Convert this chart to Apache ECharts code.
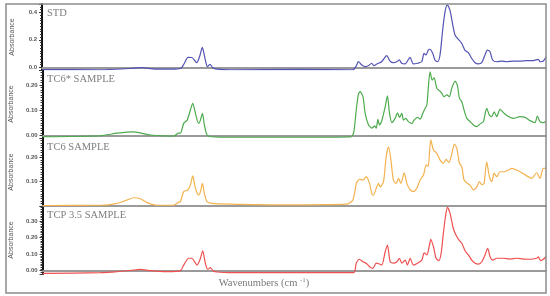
<!DOCTYPE html>
<html>
<head>
<meta charset="utf-8">
<script src="https://cdn.jsdelivr.net/npm/echarts@6/dist/echarts.min.js"></script>
<style>
  html, body { margin: 0; padding: 0; background: #fff; }
  #main { width: 550px; height: 296px; }
</style>
</head>
<body>
<div id="main"></div>
<script>
// spectra: wavenumber (cm-1) and absorbance
var stdWn = [4000,3586,3371,3286,3193,3050,3007,2986,2957,2929,2895,2871,2855,2836,2819,2800,2781,2750,2657,2157,1779,1752,1741,1716,1693,1669,1645,1629,1609,1574,1538,1514,1491,1466,1448,1431,1407,1371,1348,1319,1288,1271,1257,1241,1229,1209,1193,1174,1157,1138,1121,1105,1086,1066,1050,1026,1002,979,955,931,907,883,859,836,819,800,781,752,716,681,633,586,538,490,455,443,419,400]
var stdAbs = [-0.017,-0.018,-0.009,-0.003,-0.013,-0.013,-0.008,0.024,0.072,0.071,0.033,0.089,0.145,0.065,0.004,0.021,-0.003,-0.013,-0.018,-0.016,-0.018,0.016,0.042,0.016,0.004,0.011,0.029,0.011,0.024,0.040,0.084,0.045,0.033,0.040,0.053,0.029,0.024,0.072,0.024,0.029,0.040,0.101,0.089,0.125,0.131,0.101,0.053,0.040,0.089,0.271,0.404,0.453,0.416,0.307,0.235,0.203,0.174,0.125,0.106,0.065,0.033,0.024,0.033,0.089,0.125,0.113,0.053,0.040,0.045,0.040,0.045,0.045,0.048,0.048,0.058,0.040,0.045,0.077]

var tc6sWn = [4000,3586,3466,3348,3229,3062,3026,3014,2991,2966,2943,2926,2907,2884,2871,2857,2843,2824,2788,2657,2157,1800,1776,1757,1741,1729,1709,1693,1669,1645,1626,1614,1602,1591,1574,1550,1534,1519,1502,1479,1462,1448,1431,1419,1402,1384,1359,1343,1319,1300,1281,1264,1252,1241,1229,1214,1200,1181,1162,1145,1129,1109,1091,1074,1050,1034,1019,1002,986,966,943,919,895,871,848,824,805,788,771,752,729,700,669,633,586,550,514,479,462,443,419,400]
var tc6sAbs = [-0.005,-0.001,0.009,0.014,0.002,-0.002,0.009,0.009,0.048,0.061,0.101,0.128,0.088,0.048,0.061,0.088,0.042,0.002,-0.005,-0.007,-0.007,-0.006,0.009,0.101,0.165,0.174,0.154,0.088,0.042,0.029,0.038,0.029,0.064,0.042,0.059,0.114,0.157,0.088,0.051,0.068,0.090,0.072,0.088,0.061,0.068,0.055,0.048,0.061,0.072,0.065,0.088,0.108,0.121,0.194,0.253,0.220,0.229,0.187,0.178,0.167,0.154,0.161,0.154,0.187,0.216,0.200,0.148,0.134,0.101,0.068,0.055,0.042,0.035,0.046,0.055,0.108,0.081,0.075,0.094,0.075,0.104,0.088,0.075,0.068,0.075,0.072,0.059,0.051,0.077,0.055,0.051,0.055]

var tc6Wn = [4000,3586,3466,3395,3348,3300,3252,3181,3062,3026,3014,2991,2962,2943,2926,2907,2884,2871,2857,2843,2824,2788,2657,2300,1824,1781,1757,1754,1734,1709,1686,1662,1645,1634,1614,1598,1586,1562,1543,1526,1509,1491,1471,1455,1438,1414,1395,1371,1348,1324,1300,1276,1257,1243,1224,1205,1181,1157,1134,1114,1095,1074,1055,1038,1019,1002,986,962,943,919,895,876,859,843,824,805,788,771,752,729,700,669,645,609,574,538,502,467,443,419,400]
var tc6Abs = [0.002,0.003,0.011,0.025,0.034,0.030,0.014,0.003,0.003,0.016,0.018,0.059,0.066,0.086,0.124,0.073,0.045,0.059,0.093,0.052,0.018,0.011,0.008,0.005,0.008,0.025,0.093,0.097,0.110,0.107,0.121,0.093,0.049,0.045,0.073,0.093,0.079,0.100,0.203,0.244,0.189,0.107,0.093,0.114,0.093,0.137,0.093,0.066,0.059,0.073,0.107,0.128,0.169,0.162,0.272,0.231,0.217,0.189,0.176,0.192,0.178,0.214,0.255,0.238,0.176,0.162,0.107,0.093,0.086,0.066,0.079,0.100,0.088,0.093,0.182,0.121,0.100,0.135,0.121,0.141,0.141,0.148,0.155,0.148,0.137,0.124,0.114,0.137,0.114,0.155,0.155]

var tcpWn = [4000,3586,3466,3348,3300,3229,3109,3014,2991,2955,2931,2914,2895,2871,2855,2836,2819,2800,2781,2752,2657,2157,1776,1757,1734,1709,1686,1662,1638,1614,1591,1574,1550,1534,1514,1491,1466,1448,1431,1407,1391,1371,1348,1319,1288,1271,1252,1233,1224,1205,1186,1166,1150,1134,1119,1105,1086,1066,1050,1026,1002,979,955,931,907,883,859,836,817,800,781,752,705,657,609,562,514,467,455,438,419,400]
var tcpAbs = [-0.016,-0.012,-0.006,0.004,0.008,0.000,-0.006,0.000,0.034,0.075,0.075,0.054,0.034,0.075,0.120,0.045,0.008,0.018,0.000,-0.008,-0.012,-0.012,-0.012,0.045,0.069,0.054,0.045,0.024,0.014,0.045,0.040,0.034,0.114,0.155,0.054,0.045,0.054,0.075,0.045,0.064,0.034,0.075,0.034,0.045,0.064,0.108,0.095,0.155,0.189,0.145,0.075,0.060,0.105,0.225,0.325,0.382,0.346,0.265,0.225,0.189,0.165,0.120,0.095,0.064,0.045,0.040,0.054,0.095,0.135,0.084,0.064,0.075,0.075,0.070,0.075,0.070,0.069,0.075,0.084,0.060,0.069,0.084]

var panelNames = ['STD', 'TC6* SAMPLE', 'TC6 SAMPLE', 'TCP 3.5 SAMPLE']

var spectra = [
  zip(stdWn, stdAbs),
  zip(tc6sWn, tc6sAbs),
  zip(tc6Wn, tc6Abs),
  zip(tcpWn, tcpAbs)
]

function zip(wn, ab) {
  return wn.map(function (w, i) { return [w, ab[i]] })
}

var lineColors = ['#5353b5', '#4cab4c', '#f3b24e', '#ef5050']
var panelTop = [4, 70, 138, 206]
var panelHeight = [66, 68, 68, 68]
var yRange = [[-0.02, 0.46], [-0.01, 0.26], [0, 0.28], [-0.02, 0.39]]
var ySplit = [2, 3, 3, 4]
var yDigits = [1, 2, 2, 2]

var grids = [], xAxes = [], yAxes = [], series = [], titles = []
for (let i = 0; i < 4; i++) {
  grids.push({ left: 42, right: 4, top: panelTop[i], height: panelHeight[i] })
  xAxes.push({
    type: 'value',
    gridIndex: i,
    min: 400,
    max: 4000,
    inverse: true,
    axisLine: { show: true, lineStyle: { color: '#9a9a9a', width: 2 } },
    axisTick: { show: false },
    axisLabel: { show: false },
    splitLine: { show: false }
  })
  yAxes.push({
    type: 'value',
    gridIndex: i,
    min: yRange[i][0],
    max: yRange[i][1],
    splitNumber: ySplit[i],
    name: 'Absorbance',
    nameLocation: 'middle',
    nameGap: 26,
    nameTextStyle: { fontSize: 7, color: '#555', fontFamily: 'Liberation Sans' },
    axisLine: { show: true, onZero: false, lineStyle: { color: '#111', width: 2 } },
    axisTick: { show: true, length: 3, lineStyle: { color: '#333' } },
    minorTick: { show: true, splitNumber: 10, length: 2, lineStyle: { color: '#333' } },
    splitLine: { show: false },
    axisLabel: {
      fontSize: 6,
      fontWeight: 'bold',
      color: '#555',
      fontFamily: 'Liberation Sans',
      margin: 5,
      showMinLabel: false,
      showMaxLabel: false,
      formatter: (function (d) {
        return function (v) { return v.toFixed(d) }
      })(yDigits[i])
    }
  })
  series.push({
    name: panelNames[i],
    type: 'line',
    xAxisIndex: i,
    yAxisIndex: i,
    data: spectra[i],
    showSymbol: false,
    smooth: 0.25,
    lineStyle: { color: lineColors[i], width: 1.2 },
    z: 3
  })
  titles.push({
    text: panelNames[i],
    left: 47,
    top: panelTop[i] + 4,
    padding: 0,
    textStyle: { fontFamily: 'Liberation Serif', fontSize: 10.5, fontWeight: 'normal', color: '#7d7d7d' }
  })
}

var chart = echarts.init(document.getElementById('main'))
chart.setOption({
  animation: false,
  backgroundColor: '#fff',
  title: titles,
  grid: grids,
  xAxis: xAxes,
  yAxis: yAxes,
  series: series,
  graphic: [
    {
      type: 'rect',
      shape: { x: 6, y: 4, width: 540, height: 289 },
      style: { fill: 'none', stroke: '#8c8c8c', lineWidth: 1.5 },
      z: 10
    },
    {
      type: 'text',
      x: 264,
      y: 283,
      style: {
        text: 'Wavenumbers (cm {sup|-1})',
        fontFamily: 'Liberation Serif',
        fontSize: 10.5,
        fill: '#7a7a7a',
        align: 'center',
        verticalAlign: 'middle',
        rich: {
          sup: { fontFamily: 'Liberation Serif', fontSize: 7, fill: '#7a7a7a', padding: [0, 0, 6, 0] }
        }
      }
    }
  ]
})
</script>
</body>
</html>
